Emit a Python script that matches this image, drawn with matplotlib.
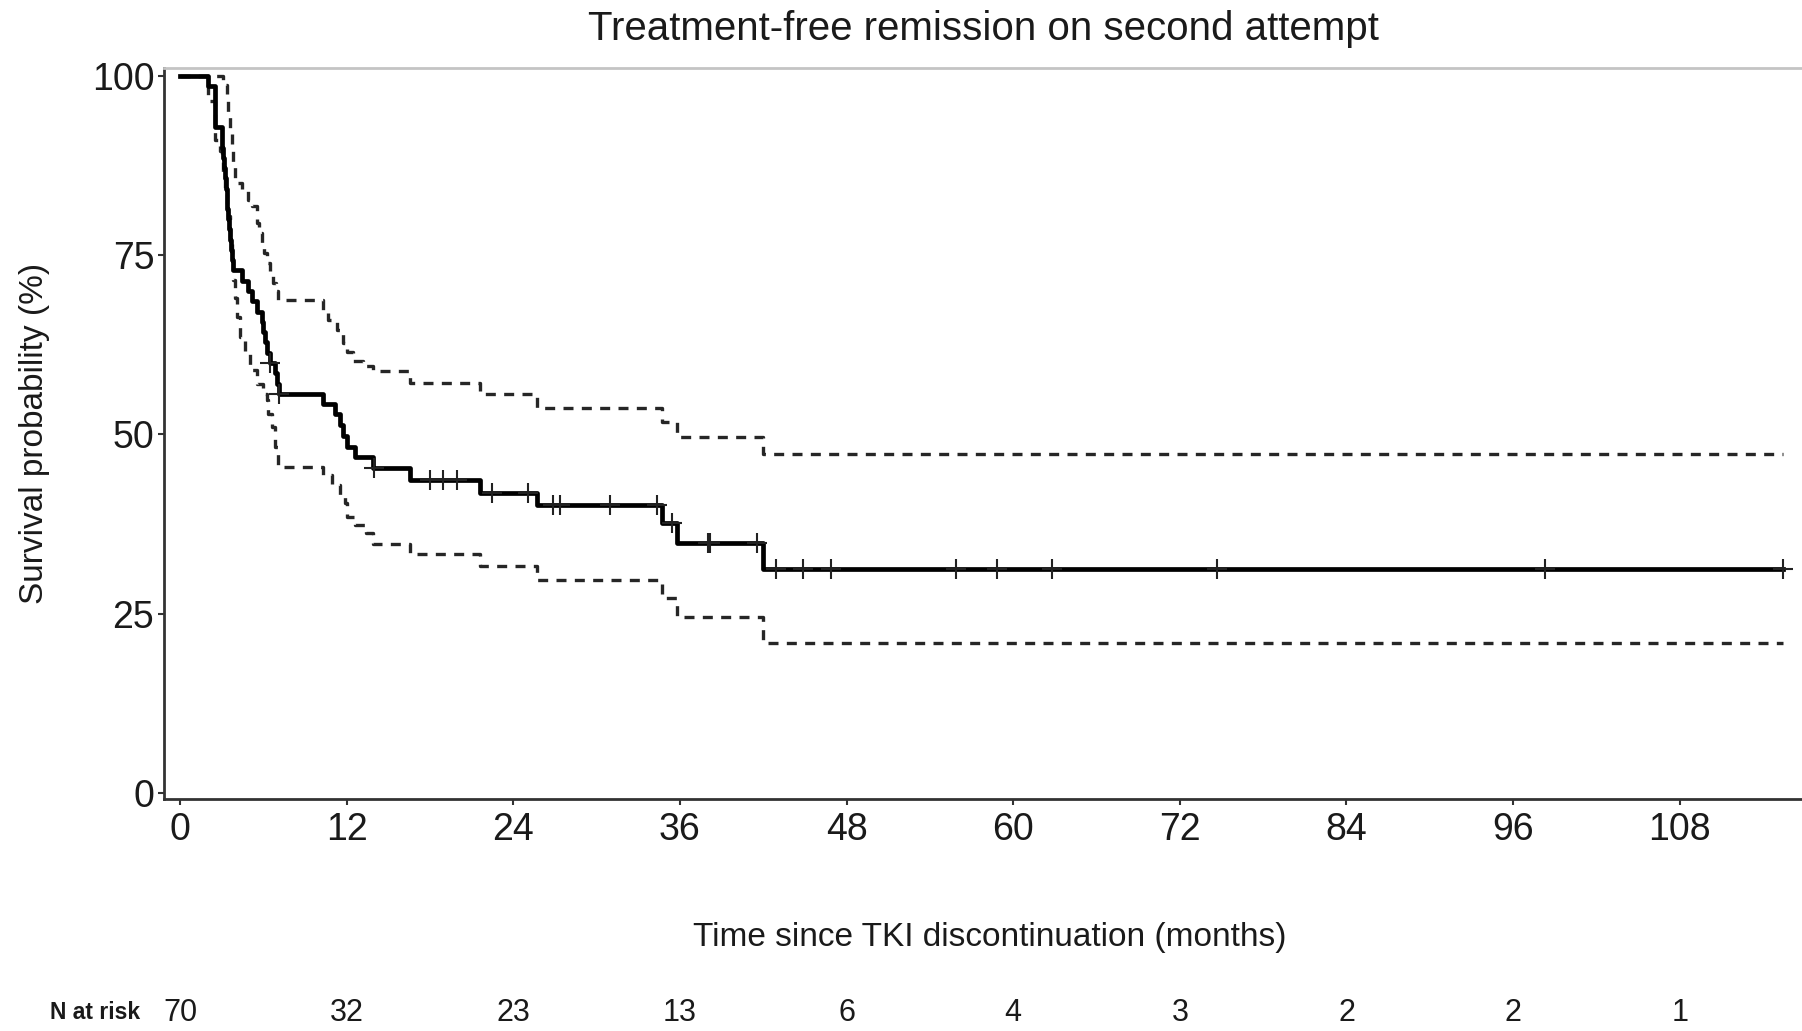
import matplotlib

matplotlib.use("Agg")

import matplotlib.pyplot as plt
import matplotlib.transforms as mtransforms
import numpy as np

plt.rcParams["font.family"] = ["Liberation Sans", "DejaVu Sans"]

# Kaplan-Meier estimate (months, survival %)
km_t = [0, 2.04, 2.52,
        3.00, 3.06, 3.12, 3.18, 3.24, 3.30, 3.36, 3.42, 3.48, 3.54, 3.60, 3.66, 3.72, 3.84,
        4.44, 4.90, 5.16, 5.52, 5.88, 6.00, 6.12, 6.30, 6.48, 6.84, 7.00, 7.15,
        10.32, 11.16, 11.50, 11.76, 12.00, 12.60, 13.90,
        16.56, 21.60, 25.68, 34.68, 35.76, 42.00]
km_s = [100, 98.6, 92.9,
        91.4, 90.0, 88.6, 87.1, 85.7, 84.3, 82.9, 81.4, 80.0, 78.6, 77.1, 75.7, 74.3, 72.9,
        71.4, 70.0, 68.6, 67.1, 65.7, 64.3, 62.9, 61.4, 60.0, 58.5, 57.1, 55.6,
        54.2, 52.8, 51.3, 49.8, 48.3, 46.8, 45.3,
        43.7, 41.9, 40.2, 37.7, 34.8, 31.2]

# censored observations (months)
censor_t = [6.5, 7.15, 14.0, 18.0, 18.96, 19.92, 22.44, 25.08, 26.88, 27.36, 30.96,
            34.32, 35.4, 38.0, 38.2, 41.52, 42.9, 44.9, 46.9, 55.9, 58.8, 62.8,
            74.7, 98.3, 115.4]
t_end = 115.4

# 95% confidence band
upper_t = [0, 3.12, 3.24, 3.36, 3.48, 3.60, 3.72, 3.84, 3.96, 4.44, 4.90, 5.16, 5.52,
           5.70, 5.88, 6.06, 6.24, 6.48, 6.72, 6.90, 7.08, 10.32, 10.68, 11.28, 11.76,
           12.00, 12.48, 13.20, 13.92, 16.56, 21.60, 25.68, 34.68, 35.76, 42.00]
upper = [100, 99.5, 98.8, 96.5, 94.3, 92.0, 89.7, 87.3, 85.0, 84.0, 82.7, 81.8, 79.5,
         78.1, 76.7, 75.3, 73.9, 72.5, 71.1, 70.0, 68.8, 67.4, 66.0, 64.6, 62.7,
         61.5, 60.2, 59.5, 58.8, 57.2, 55.6, 53.7, 51.8, 49.6, 47.3]
lower_t = [0, 2.04, 2.52, 2.88, 3.00, 3.12, 3.24, 3.36, 3.48, 3.60, 3.72, 3.84, 3.96,
           4.08, 4.32, 4.68, 5.04, 5.52, 6.00, 6.24, 6.36, 6.60, 6.84, 7.08, 10.32,
           10.92, 11.52, 11.88, 12.00, 12.60, 13.40, 13.90, 16.56, 21.60, 25.68,
           34.68, 35.76, 42.00]
lower = [100, 96.5, 91.0, 89.5, 88.0, 86.0, 84.0, 82.2, 80.4, 77.6, 75.0, 71.5, 69.0,
         66.4, 63.6, 61.3, 59.0, 57.1, 55.7, 54.8, 52.9, 51.1, 48.3, 45.4, 44.4,
         43.0, 41.6, 40.4, 38.5, 37.4, 36.2, 34.7, 33.3, 31.6, 29.7, 27.2, 24.5, 20.9]

x_ticks = [0, 12, 24, 36, 48, 60, 72, 84, 96, 108]
y_ticks = [0, 25, 50, 75, 100]
n_at_risk = [70, 32, 23, 13, 6, 4, 3, 2, 2, 1]

INK = "#1a1a1a"


def extend(t, s):
    return list(t) + [t_end], list(s) + [s[-1]]


fig = plt.figure(figsize=(18.02, 10.31), dpi=100)
ax = fig.add_axes([0.091, 0.225, 0.909, 0.709])

dash = (0, (3.0, 2.5))
ut, uv = extend(upper_t, upper)
lt, lv = extend(lower_t, lower)
ax.step(ut, uv, where="post", color="#262626", lw=2.4, linestyle=dash, zorder=2)
ax.step(lt, lv, where="post", color="#262626", lw=2.4, linestyle=dash, zorder=2)

kt, kv = extend(km_t, km_s)
ax.step(kt, kv, where="post", color="black", lw=3.4, zorder=4)

idx = np.searchsorted(km_t, censor_t, side="right") - 1
censor_s = np.asarray(km_s)[idx]
ax.plot(censor_t, censor_s, linestyle="none", marker="+", ms=15, mew=1.5, color="#222222", zorder=5)

ax.set_xlim(-1.15, 116.8)
ax.set_ylim(-0.85, 101.1)
ax.set_xticks(x_ticks)
ax.set_yticks(y_ticks)
ax.tick_params(axis="both", labelsize=27, colors="#333333", labelcolor=INK, length=4, width=1.5)
ax.tick_params(axis="x", pad=5)
ax.tick_params(axis="y", pad=3)

for side in ("left", "bottom"):
    ax.spines[side].set_color("#333333")
    ax.spines[side].set_linewidth(2.0)
ax.spines["top"].set_color("#c4c4c4")
ax.spines["top"].set_linewidth(2.0)
ax.spines["right"].set_visible(False)

ax.set_title("Treatment-free remission on second attempt", fontsize=29, color=INK, pad=20)
ax.set_ylabel("Survival probability (%)", fontsize=24, color=INK, labelpad=30)
fig.text(0.549, 0.091, "Time since TKI discontinuation (months)", ha="center", va="center",
         fontsize=24, color=INK)

# risk table row
trans = mtransforms.blended_transform_factory(ax.transData, fig.transFigure)
for x, n in zip(x_ticks, n_at_risk):
    ax.text(x, 0.0175, str(n), transform=trans, ha="center", va="center", fontsize=22,
            color=INK, clip_on=False)
fig.text(0.078, 0.0175, "N at risk", ha="right", va="center", fontsize=16.5,
         fontweight="bold", color=INK)

fig.savefig("out.png", dpi=100, facecolor="white")
plt.close(fig)
